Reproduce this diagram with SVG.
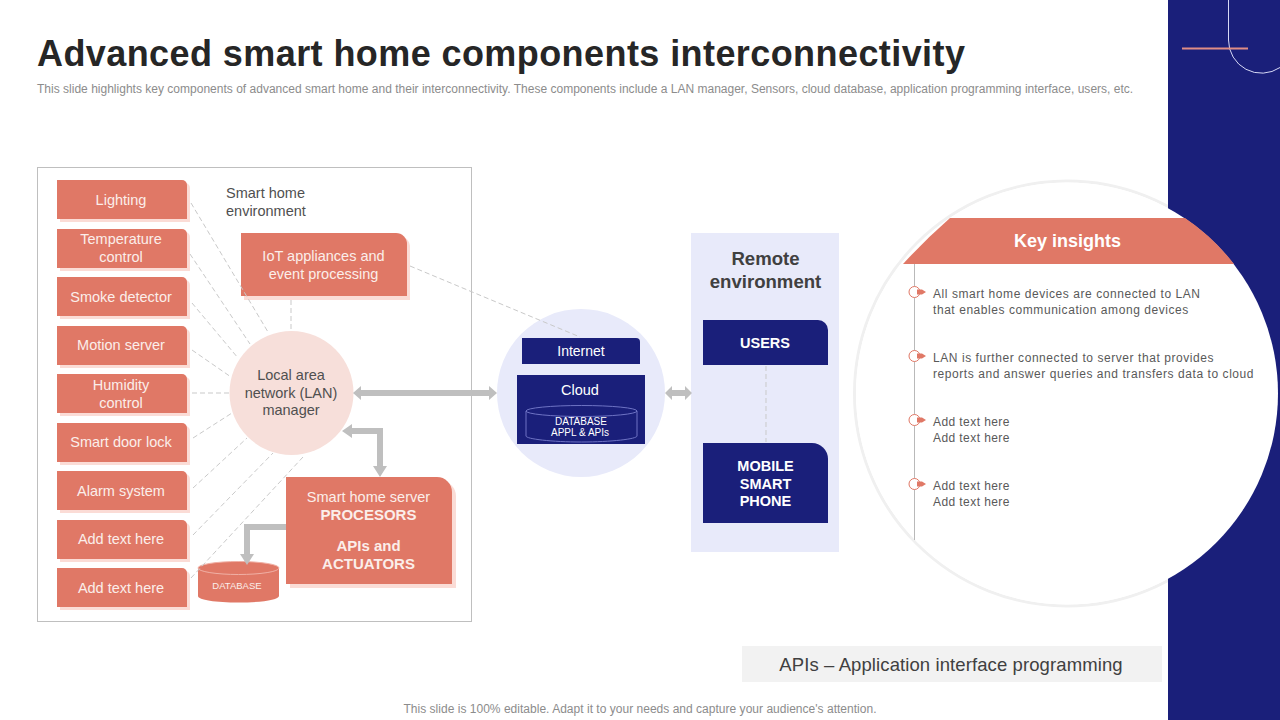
<svg xmlns="http://www.w3.org/2000/svg" width="1280" height="720" viewBox="0 0 1280 720">
<style>
text{font-family:"Liberation Sans",Arial,sans-serif;text-anchor:middle}
.n{font-size:14.5px;fill:#fbeeea}
.d{font-size:14.5px;fill:#505050}
.b{font-size:15px;font-weight:bold;fill:#fbeeea}
.w{font-size:14.5px;font-weight:bold;fill:#fff}
.l{font-size:12px;fill:#595959;text-anchor:start;letter-spacing:.56px}
.l2{font-size:12px;fill:#595959;text-anchor:start;letter-spacing:.42px}
.dash{stroke:#c9c9c9;stroke-width:1;stroke-dasharray:5 3;fill:none}
.s{fill:#fbdcd6}
.r{fill:#e07866}
.a{fill:#bfbfbf}
.navy{fill:#1a1f7a}
</style>
<defs>
<clipPath id="left"><rect x="0" y="0" width="1168" height="720"/></clipPath>
<path id="tag" d="M0 0H125a5 5 0 0 1 5 5V39H0Z"/>
</defs>
<rect width="1280" height="720" fill="#fff"/>
<g id="side-panel">
<rect x="1168" width="112" height="720" class="navy"/>
<path d="M1228.500 0V40A33 33 0 0 0 1280 67.500" fill="none" stroke="#d6d8f5" stroke-width="1"/>
<rect x="1182" y="47.500" width="66" height="2" fill="#e08d85"/>
</g>
<text x="37" y="66" style="text-anchor:start;font-size:36px;font-weight:bold;fill:#262626;letter-spacing:.42px">Advanced smart home components interconnectivity</text>
<text x="37" y="92.500" style="text-anchor:start;font-size:12px;fill:#8c8c8c;letter-spacing:.01px">This slide highlights key components of advanced smart home and their interconnectivity. These components include a LAN manager, Sensors, cloud database, application programming interface, users, etc.</text>
<rect x="37.500" y="167.500" width="434" height="454" fill="#fff" stroke="#bfbfbf"/>
<g id="lighting"><use href="#tag" x="60" y="183" class="s"/><use href="#tag" x="57" y="180" class="r"/><text x="121" y="205" class="n">Lighting</text></g>
<g id="temperature"><use href="#tag" x="60" y="232" class="s"/><use href="#tag" x="57" y="229" class="r"/><text x="121" y="244" class="n">Temperature</text><text x="121" y="262" class="n">control</text></g>
<g id="smoke"><use href="#tag" x="60" y="280" class="s"/><use href="#tag" x="57" y="277" class="r"/><text x="121" y="302" class="n">Smoke detector</text></g>
<g id="motion"><use href="#tag" x="60" y="329" class="s"/><use href="#tag" x="57" y="326" class="r"/><text x="121" y="350" class="n">Motion  server</text></g>
<g id="humidity"><use href="#tag" x="60" y="377" class="s"/><use href="#tag" x="57" y="374" class="r"/><text x="121" y="390" class="n">Humidity</text><text x="121" y="408" class="n">control</text></g>
<g id="door"><use href="#tag" x="60" y="426" class="s"/><use href="#tag" x="57" y="423" class="r"/><text x="121" y="447" class="n">Smart door lock</text></g>
<g id="alarm"><use href="#tag" x="60" y="474" class="s"/><use href="#tag" x="57" y="471" class="r"/><text x="121" y="496" class="n">Alarm system</text></g>
<g id="add1"><use href="#tag" x="60" y="523" class="s"/><use href="#tag" x="57" y="520" class="r"/><text x="121" y="544" class="n">Add text here</text></g>
<g id="add2"><use href="#tag" x="60" y="571" class="s"/><use href="#tag" x="57" y="568" class="r"/><text x="121" y="593" class="n">Add text here</text></g>
<g id="env-label"><text x="226" y="198" class="d" style="text-anchor:start">Smart home</text><text x="226" y="216" class="d" style="text-anchor:start">environment</text></g>
<g id="iot">
<path class="s" d="M244 236H399a11 11 0 0 1 11 11V300H244Z"/>
<path class="r" d="M241 233H396a11 11 0 0 1 11 11V296H241Z"/>
<text x="323.500" y="261" class="n">IoT appliances and</text><text x="323.500" y="279" class="n">event processing</text>
</g>
<g id="lan">
<circle cx="291.500" cy="393" r="62" fill="#f7dfda"/>
<text x="291" y="380" class="d">Local area</text><text x="291" y="398" class="d">network (LAN)</text><text x="291" y="415" class="d">manager</text>
</g>
<g id="server">
<path class="s" d="M290 481H441a15 15 0 0 1 15 15V588H290Z"/>
<path class="r" d="M286 477H437a15 15 0 0 1 15 15V584H286Z"/>
<text x="368.500" y="502" class="n">Smart home server</text>
<text x="368.500" y="520" class="b">PROCESORS</text>
<text x="368.500" y="551" class="b">APIs and</text>
<text x="368.500" y="569" class="b">ACTUATORS</text>
</g>
<g id="database">
<path class="r" d="M198 568V596C198 600 216 602.500 238.500 602.500S279 600 279 596V568Z"/>
<ellipse cx="238.500" cy="568" rx="40.500" ry="6.500" class="r" stroke="#f0b0a5" stroke-width="1"/>
<text x="237" y="589" style="font-size:9.500px;fill:#fbeeea">DATABASE</text>
</g>
<g id="cloud-group">
<circle cx="581" cy="393" r="84" fill="#e8eafa"/>
<path class="navy" d="M522 338H636a4 4 0 0 1 4 4V364H522Z"/>
<text x="581" y="356" style="font-size:14px;fill:#fff">Internet</text>
<rect x="517" y="375" width="128" height="69" class="navy"/>
<text x="580" y="395" style="font-size:14.500px;fill:#fff">Cloud</text>
<path d="M526 411V436C526 439 552 442 581.500 442S637 439 637 436V411" fill="none" stroke="#6e73c4"/>
<ellipse cx="581.500" cy="411" rx="55.500" ry="5.500" fill="none" stroke="#6e73c4"/>
<text x="581" y="425" style="font-size:10px;fill:#fff">DATABASE</text>
<text x="580" y="436" style="font-size:10px;fill:#fff">APPL &amp; APIs</text>
</g>
<g id="remote">
<rect x="691" y="233" width="148" height="319" fill="#e8eafa"/>
<text x="765.500" y="265" style="font-size:18.600px;font-weight:bold;fill:#404040">Remote</text>
<text x="765.500" y="288" style="font-size:18.600px;font-weight:bold;fill:#404040">environment</text>
</g>
<g id="users">
<path class="navy" d="M703 320H818a10 10 0 0 1 10 10V365H703Z"/>
<text x="765" y="348" class="w">USERS</text>
</g>
<g id="phone">
<path class="navy" d="M703 443H812a16 16 0 0 1 16 16V523H703Z"/>
<text x="765.500" y="471" class="w">MOBILE</text><text x="765.500" y="489" class="w">SMART</text><text x="765.500" y="506" class="w">PHONE</text>
</g>
<g id="connectors">
<path class="dash" d="M191 203L268 332M190 254L250 344M192 303L238 358M192 350L231 377M192 393H230M193 438L232 413M193 488L247 438M193 535L273 453M191 578L303 457M291 300V331M410 266L580 337M766 366V442"/>
<rect x="357" y="390" width="136" height="6" class="a"/>
<path class="a" d="M353 393L361 386V400ZM497 393L489 386V400Z"/>
<rect x="670" y="390" width="18" height="6" class="a"/>
<path class="a" d="M665 393L672 386V400ZM692 393L685 386V400Z"/>
<path d="M349 431H380V470" fill="none" stroke="#bfbfbf" stroke-width="6"/>
<path class="a" d="M342 431L352 424V438ZM380 477L373 466H387Z"/>
<path d="M286 527H247V556" fill="none" stroke="#bfbfbf" stroke-width="6"/>
<path class="a" d="M247 565L240 554H254Z"/>
</g>
<g id="insights">
<circle cx="1067" cy="393.500" r="212.500" fill="none" stroke="#f0f0f0" stroke-width="3" clip-path="url(#left)"/>
<circle cx="1067" cy="393.500" r="211" fill="#fff"/>
<path d="M950 218Q925 240 903 264H1234A211 211 0 0 0 1185 218Z" fill="#e07866"/>
<text x="1067.500" y="247" style="font-size:18px;font-weight:bold;fill:#fff">Key insights</text>
<path d="M914.500 264V540" stroke="#b9b9b9" stroke-width="1" fill="none"/>
<g fill="none" stroke="#e07866"><circle cx="914.500" cy="292" r="5.500" fill="#fff"/><circle cx="914.500" cy="356" r="5.500" fill="#fff"/><circle cx="914.500" cy="420" r="5.500" fill="#fff"/><circle cx="914.500" cy="484" r="5.500" fill="#fff"/></g>
<path class="r" d="M917 289.500H922L926 292L922 294.500H917ZM917 353.500H922L926 356L922 358.500H917ZM917 417.500H922L926 420L922 422.500H917ZM917 481.500H922L926 484L922 486.500H917Z"/>
<text x="933" y="297.500" class="l">All smart home devices are connected to LAN</text>
<text x="933" y="313.500" class="l">that enables communication among devices</text>
<text x="933" y="361.500" class="l">LAN is further connected to server that provides</text>
<text x="933" y="377.500" class="l">reports and answer queries and transfers data to cloud</text>
<text x="933" y="425.500" class="l2">Add text here</text>
<text x="933" y="441.500" class="l2">Add text here</text>
<text x="933" y="489.500" class="l2">Add text here</text>
<text x="933" y="505.500" class="l2">Add text here</text>
</g>
<g id="api-note">
<rect x="742" y="646" width="420" height="36" fill="#f2f2f2"/>
<text x="951" y="671" style="font-size:18.500px;fill:#404040;letter-spacing:.1px">APIs – Application interface programming</text>
</g>
<text x="640" y="713" style="font-size:12px;fill:#8c8c8c;letter-spacing:.02px">This slide is 100% editable. Adapt it to your needs and capture your audience's attention.</text>
</svg>
